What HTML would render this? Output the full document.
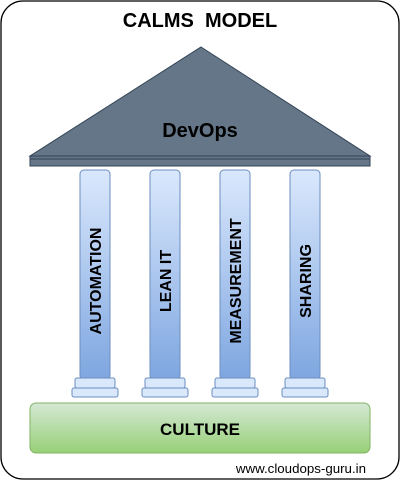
<!DOCTYPE html>
<html><head><style>body{margin:0;background:#fff}svg{display:block}</style></head><body>
<svg width="401" height="481" viewBox="0 0 401 481" xmlns="http://www.w3.org/2000/svg" font-family="Liberation Sans, sans-serif">
<defs>
<linearGradient id="col" x1="0" y1="0" x2="0" y2="1"><stop offset="0" stop-color="#dae8fc"/><stop offset="1" stop-color="#7ea6e0"/></linearGradient>
<linearGradient id="grn" x1="0" y1="0" x2="0" y2="1"><stop offset="0" stop-color="#d5e8d4"/><stop offset="1" stop-color="#97d077"/></linearGradient>
</defs>
<rect x="1" y="1" width="398" height="478" rx="22" fill="#fff" stroke="#000" stroke-width="1.3"/>
<text x="200" y="27" text-anchor="middle" font-size="20" font-weight="bold">CALMS&#160;&#160;MODEL</text>
<polygon points="201,47 370,156 30,156" fill="#647687" stroke="#314354" stroke-width="1"/>
<rect x="30" y="156" width="340" height="10" fill="#647687" stroke="#314354" stroke-width="1"/>
<line x1="30" y1="159" x2="370" y2="159" stroke="#314354" stroke-width="1"/>
<text x="200" y="137" text-anchor="middle" font-size="20" font-weight="bold">DevOps</text>
<g stroke="#6c8ebf" stroke-width="1">
<g id="c"><rect x="80" y="170" width="30" height="210" rx="4" fill="url(#col)"/><rect x="75" y="378" width="40" height="10" rx="2" fill="#dae8fc"/><rect x="72" y="388" width="46" height="9" rx="2" fill="#dae8fc"/></g>
<use href="#c" x="70"/><use href="#c" x="140"/><use href="#c" x="210"/>
</g>
<g font-size="16" font-weight="bold" text-anchor="middle">
<text transform="translate(101,281) rotate(-90)">AUTOMATION</text>
<text transform="translate(171,281) rotate(-90)">LEAN IT</text>
<text transform="translate(241,281) rotate(-90)">MEASUREMENT</text>
<text transform="translate(311,281) rotate(-90)">SHARING</text>
</g>
<rect x="30" y="403" width="340" height="50" rx="6" fill="url(#grn)" stroke="#82b366" stroke-width="1"/>
<text x="200" y="435" text-anchor="middle" font-size="17" font-weight="bold">CULTURE</text>
<text x="366" y="473" text-anchor="end" font-size="13.3">www.cloudops-guru.in</text>
</svg>
</body></html>
